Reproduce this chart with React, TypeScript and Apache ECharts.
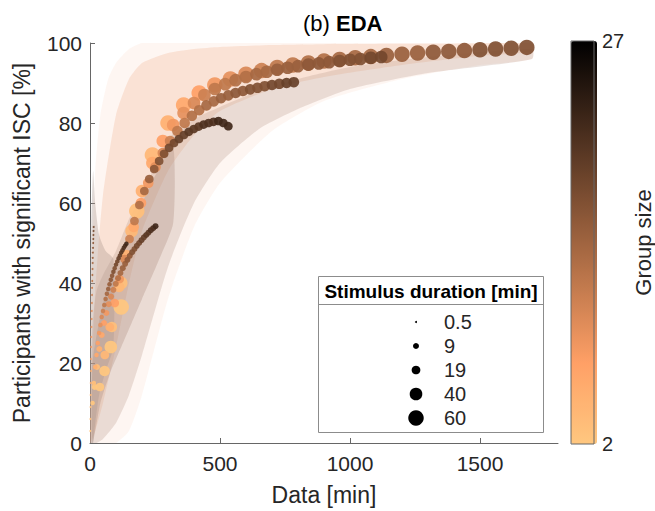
import React, { useEffect, useRef } from "react";
import * as echarts from "echarts";

// ---- data: curves (one per stimulus duration), x = data [min], y = % significant, g = group size (colour)
const x60 = [120, 180, 240, 300, 360, 420, 480, 540, 600, 660, 720, 780, 840, 900, 960, 1020, 1080, 1140, 1200, 1260, 1320, 1380, 1440, 1500, 1560, 1620, 1680];
const y60 = [34, 58, 72, 80, 84.5, 87.5, 89.5, 91, 92.2, 93.1, 93.9, 94.5, 95, 95.5, 95.9, 96.3, 96.6, 96.9, 97.2, 97.5, 97.7, 97.9, 98.1, 98.3, 98.5, 98.7, 98.9];
const g60 = [2, 3, 4, 5, 6, 7, 8, 9, 10, 11, 12, 12, 13, 13, 14, 14, 14, 15, 15, 15, 16, 16, 16, 17, 17, 17, 17];

const x40 = [80, 120, 160, 200, 240, 280, 320, 360, 400, 440, 480, 520, 560, 600, 640, 680, 720, 760, 800, 840, 880, 920, 960, 1000, 1040, 1080, 1120];
const y40 = [24, 40, 53, 63, 70, 75.5, 79.5, 82.5, 85, 87, 88.5, 89.7, 90.7, 91.5, 92.2, 92.8, 93.3, 93.8, 94.2, 94.6, 94.9, 95.2, 95.5, 95.8, 96, 96.3, 96.5];
const g40 = [2, 3, 4, 5, 6, 7, 8, 9, 10, 11, 12, 12, 13, 13, 14, 14, 15, 15, 15, 16, 16, 16, 17, 17, 17, 18, 18];

const x28 = [56, 84, 112, 140, 168, 196, 224, 252, 280, 308, 336, 364, 392, 420, 448, 476, 504, 532, 560, 588, 616, 644, 672, 700, 728, 756, 784];
const y28 = [18, 29, 39, 47, 54, 60, 65, 69, 72.5, 75.5, 78, 80, 81.8, 83.2, 84.4, 85.4, 86.2, 86.9, 87.5, 88, 88.4, 88.8, 89.2, 89.5, 89.8, 90, 90.2];
const g28 = [2, 3, 4, 5, 6, 7, 8, 9, 10, 11, 12, 12, 13, 13, 14, 14, 15, 15, 16, 16, 17, 17, 17, 18, 18, 19, 19];

const x19 = [38, 57, 76, 95, 114, 133, 152, 171, 190, 209, 228, 247, 266, 285, 304, 323, 342, 361, 380, 399, 418, 437, 456, 475, 494, 513, 532];
const y19 = [14, 22, 29, 35, 41, 46, 51, 55.5, 59.5, 63, 66, 68.5, 70.5, 72.3, 73.8, 75, 76, 77, 77.8, 78.5, 79.1, 79.6, 80, 80.3, 80.5, 80, 79.2];
const g19 = [2, 4, 5, 7, 8, 10, 11, 12, 13, 14, 15, 16, 17, 17, 18, 18, 19, 19, 20, 20, 20, 21, 21, 21, 22, 22, 22];

const x9 = [18, 27, 36, 45, 54, 63, 72, 81, 90, 99, 108, 117, 126, 135, 144, 153, 162, 171, 180, 189, 198, 207, 216, 225, 234, 243, 252];
const y9 = [14, 19, 23.5, 27, 30, 32.5, 34.7, 36.6, 38.3, 39.8, 41.2, 42.5, 43.7, 44.8, 45.8, 46.8, 47.7, 48.5, 49.3, 50, 50.7, 51.4, 52, 52.6, 53.2, 53.7, 54.2];
const g9 = [2, 3, 5, 6, 7, 8, 9, 10, 11, 12, 13, 14, 15, 15, 16, 16, 17, 17, 18, 18, 19, 19, 20, 20, 21, 21, 22];

const x5 = [10, 15, 20, 25, 30, 35, 40, 45, 50, 55, 60, 65, 70, 75, 80, 85, 90, 95, 100, 105, 110, 115, 120, 125, 130, 135, 140];
const y5 = [10, 15, 19, 22, 25, 27.5, 29.5, 31.5, 33, 34.5, 36, 37.3, 38.5, 39.7, 40.8, 41.8, 42.8, 43.7, 44.6, 45.4, 46.2, 46.9, 47.6, 48.2, 48.8, 49.3, 49.8];
const g5 = [2, 3, 5, 6, 7, 8, 9, 10, 11, 12, 13, 14, 15, 15, 16, 16, 17, 17, 18, 18, 19, 19, 20, 20, 21, 21, 22];

const x05 = [1, 1.5, 2, 2.5, 3, 3.5, 4, 4.5, 5, 5.5, 6, 6.5, 7, 7.5, 8, 8.5, 9, 9.5, 10, 10.5, 11, 11.5, 12, 12.5, 13, 13.5, 14];
const y05 = [3, 6, 9, 12, 15, 18, 21, 24, 26.5, 29, 31, 33, 35, 37, 38.8, 40.5, 42, 43.5, 45, 46.3, 47.6, 48.8, 50, 51, 52, 53, 54];
const g05 = [2, 3, 3, 4, 5, 5, 6, 7, 7, 8, 9, 9, 10, 11, 11, 12, 13, 13, 14, 15, 15, 16, 16, 17, 17, 18, 18];

const curveDurations = [60, 40, 28, 19, 9, 5, 0.5];
const curveX = [x60, x40, x28, x19, x9, x5, x05];
const curveY = [y60, y40, y28, y19, y9, y5, y05];
const curveG = [g60, g40, g28, g19, g9, g5, g05];

// ---- confidence shading bands
const hazeX = [0, 8, 20, 40, 70, 100, 150, 200, 300, 400, 500, 700, 900, 1200, 1500, 1700];
const hazeHi = [15, 45, 68, 82, 91, 95, 98.5, 100, 100, 100, 100, 100, 100, 100, 100, 100];
const hazeLo = [0, 0, 0, 0, 0, 0, 3, 12, 36, 54, 65, 78, 85.5, 91, 94.5, 96];

const orangeX = [0, 20, 50, 100, 150, 200, 300, 400, 500, 700, 900, 1200, 1500, 1700];
const orangeHi = [5, 38, 62, 82, 91, 95, 97.5, 98.5, 99, 99.5, 99.7, 99.8, 99.9, 99.9];
const orangeLo = [0, 3, 10, 24, 40, 53, 68, 77, 83, 88.5, 91.5, 94.5, 96.8, 97.8];

const greyX = [0, 10, 25, 50, 100, 150, 200, 300, 400, 500, 650, 800, 1000, 1300, 1700];
const greyHi = [10, 30, 38, 42, 48, 56, 62, 76, 81, 84, 88, 91, 94, 96.5, 98.5];
const greyLo = [0, 0, 0, 1, 5, 12, 22, 44, 60, 70, 78.5, 83.5, 88.5, 92.5, 96];

const brownX = [10, 40, 80, 120, 160, 200, 260, 320];
const brownHi = [20, 32, 42, 48, 54, 60, 68, 74];
const brownLo = [0, 10, 18, 24, 30, 36, 45, 55];

const spikeX = [0, 5, 12, 20, 35, 60, 90];
const spikeHi = [30, 55, 68, 60, 52, 48, 46];
const spikeLo = [0, 0, 0, 5, 12, 18, 24];

// ---- axes / legend texts
const xTicks = [0, 500, 1000, 1500];
const groupSizeRange = [2, 27];
const legendDurations = [0.5, 9, 19, 40, 60];
const legendLabels = ["0.5", "9", "19", "40", "60"];

const FONT = "'Liberation Sans', Arial, Helvetica, sans-serif";
const sizeFor = (d: number) => Math.max(2, 2 * Math.sqrt(d));

const bands = [
  { x: hazeX, hi: hazeHi, lo: hazeLo, fill: "#f8c8ae", opacity: 0.16 },
  { x: orangeX, hi: orangeHi, lo: orangeLo, fill: "#f0a27a", opacity: 0.24 },
  { x: greyX, hi: greyHi, lo: greyLo, fill: "#b8978a", opacity: 0.28 },
  { x: brownX, hi: brownHi, lo: brownLo, fill: "#a07e6e", opacity: 0.28 },
  { x: spikeX, hi: spikeHi, lo: spikeLo, fill: "#a8948c", opacity: 0.35 },
];

export default function App() {
  const ref = useRef<HTMLDivElement>(null);
  useEffect(() => {
    if (!ref.current) return;
    const chart = echarts.init(ref.current, undefined, { renderer: "svg" });

    const bandSeries = {
      type: "custom",
      xAxisIndex: 0,
      yAxisIndex: 0,
      silent: true,
      clip: true,
      z: 1,
      data: bands.map((_, i) => i),
      renderItem: (params: any, api: any) => {
        const b = bands[params.dataIndex];
        const top = b.x.map((x, i) => api.coord([x, b.hi[i]]));
        const bottom = b.x.map((x, i) => api.coord([x, b.lo[i]])).reverse();
        return {
          type: "polygon",
          shape: { points: top.concat(bottom), smooth: 0.2 },
          style: { fill: b.fill, opacity: b.opacity },
        };
      },
    };

    const scatterSeries = curveDurations.map((d, k) => ({
      type: "scatter",
      name: String(d),
      xAxisIndex: 0,
      yAxisIndex: 0,
      silent: true,
      z: 3,
      symbolSize: sizeFor(d),
      itemStyle: { opacity: 0.92 },
      data: curveX[k].map((x, i) => [x, curveY[k][i], curveG[k][i]]),
    }));

    const legendTop = 276;
    const legendLeft = 318;
    const legendChildren: any[] = [
      { type: "rect", shape: { x: 0.5, y: 0.5, width: 225, height: 156 }, style: { fill: "#fff", stroke: "#8c8c8c", lineWidth: 1 } },
      { type: "line", shape: { x1: 0.5, y1: 28.5, x2: 225.5, y2: 28.5 }, style: { stroke: "#8c8c8c", lineWidth: 1 } },
      { type: "text", x: 113, y: 15, style: { text: "Stimulus duration [min]", font: `bold 19px ${FONT}`, fill: "#000", align: "center", verticalAlign: "middle" } },
    ];
    legendDurations.forEach((d, i) => {
      const cy = 46 + i * 24;
      legendChildren.push({ type: "circle", shape: { cx: 98, cy, r: sizeFor(d) / 2 }, style: { fill: "#000" } });
      legendChildren.push({ type: "text", x: 126, y: cy, style: { text: legendLabels[i], font: `20px ${FONT}`, fill: "#262626", align: "left", verticalAlign: "middle" } });
    });

    chart.setOption({
      animation: false,
      textStyle: { fontFamily: FONT },
      title: {
        text: "{n|(b) }{b|EDA}",
        left: 298,
        top: 7,
        textStyle: {
          fontWeight: "normal",
          rich: {
            n: { fontSize: 22, fontWeight: "normal", fontFamily: FONT, color: "#000" },
            b: { fontSize: 22, fontWeight: "bold", fontFamily: FONT, color: "#000" },
          },
        },
      },
      grid: [
        { left: 90, top: 43, width: 468, height: 403, containLabel: false },
        { left: 571, top: 41, width: 26, height: 403, show: true, borderColor: "#666", borderWidth: 1, backgroundColor: "transparent", z: 10 },
      ],
      xAxis: [
        {
          gridIndex: 0,
          type: "value",
          min: 0,
          max: 1800,
          name: "Data [min]",
          nameLocation: "middle",
          nameGap: 40,
          nameTextStyle: { fontSize: 23, color: "#262626" },
          axisLine: { show: true, lineStyle: { color: "#666", width: 1 } },
          axisTick: { show: true, inside: true, length: 5, customValues: xTicks, lineStyle: { color: "#666" } },
          axisLabel: { customValues: xTicks, fontSize: 21, color: "#262626", margin: 10, formatter: (v: number) => String(v) },
          splitLine: { show: false },
        },
        { gridIndex: 1, type: "value", show: false, min: 0, max: 1 },
      ],
      yAxis: [
        {
          gridIndex: 0,
          type: "value",
          min: 0,
          max: 100,
          interval: 20,
          name: "Participants with significant ISC [%]",
          nameLocation: "middle",
          nameGap: 57,
          nameTextStyle: { fontSize: 23, color: "#262626" },
          axisLine: { show: true, lineStyle: { color: "#666", width: 1 } },
          axisTick: { show: true, inside: true, length: 5, lineStyle: { color: "#666" } },
          axisLabel: { fontSize: 21, color: "#262626", margin: 8 },
          splitLine: { show: false },
        },
        {
          gridIndex: 1,
          type: "value",
          position: "right",
          min: groupSizeRange[0],
          max: groupSizeRange[1],
          name: "Group size",
          nameLocation: "middle",
          nameGap: 38,
          nameRotate: 90,
          nameTextStyle: { fontSize: 22, color: "#262626" },
          axisLine: { show: false },
          axisTick: { show: false },
          splitLine: { show: false },
          axisLabel: { customValues: groupSizeRange, fontSize: 20, color: "#262626", margin: 8 },
        },
      ],
      visualMap: {
        type: "continuous",
        min: groupSizeRange[0],
        max: groupSizeRange[1],
        dimension: 2,
        seriesIndex: scatterSeries.map((_, i) => i + 1),
        inRange: { color: ["#ffc77f", "#ffa066", "#bf784c", "#805033", "#40281a", "#000000"] },
        show: true,
        orient: "vertical",
        left: 571,
        top: 41,
        itemWidth: 26,
        itemHeight: 403,
        padding: 0,
        calculable: false,
        hoverLink: false,
      },
      graphic: [{ type: "group", x: legendLeft, y: legendTop, z: 50, children: legendChildren }],
      series: [bandSeries, ...scatterSeries],
    });
    return () => chart.dispose();
  }, []);
  return <div ref={ref} style={{ position: "fixed", left: 0, top: 0, width: 655, height: 511, background: "#fff" }} />;
}
